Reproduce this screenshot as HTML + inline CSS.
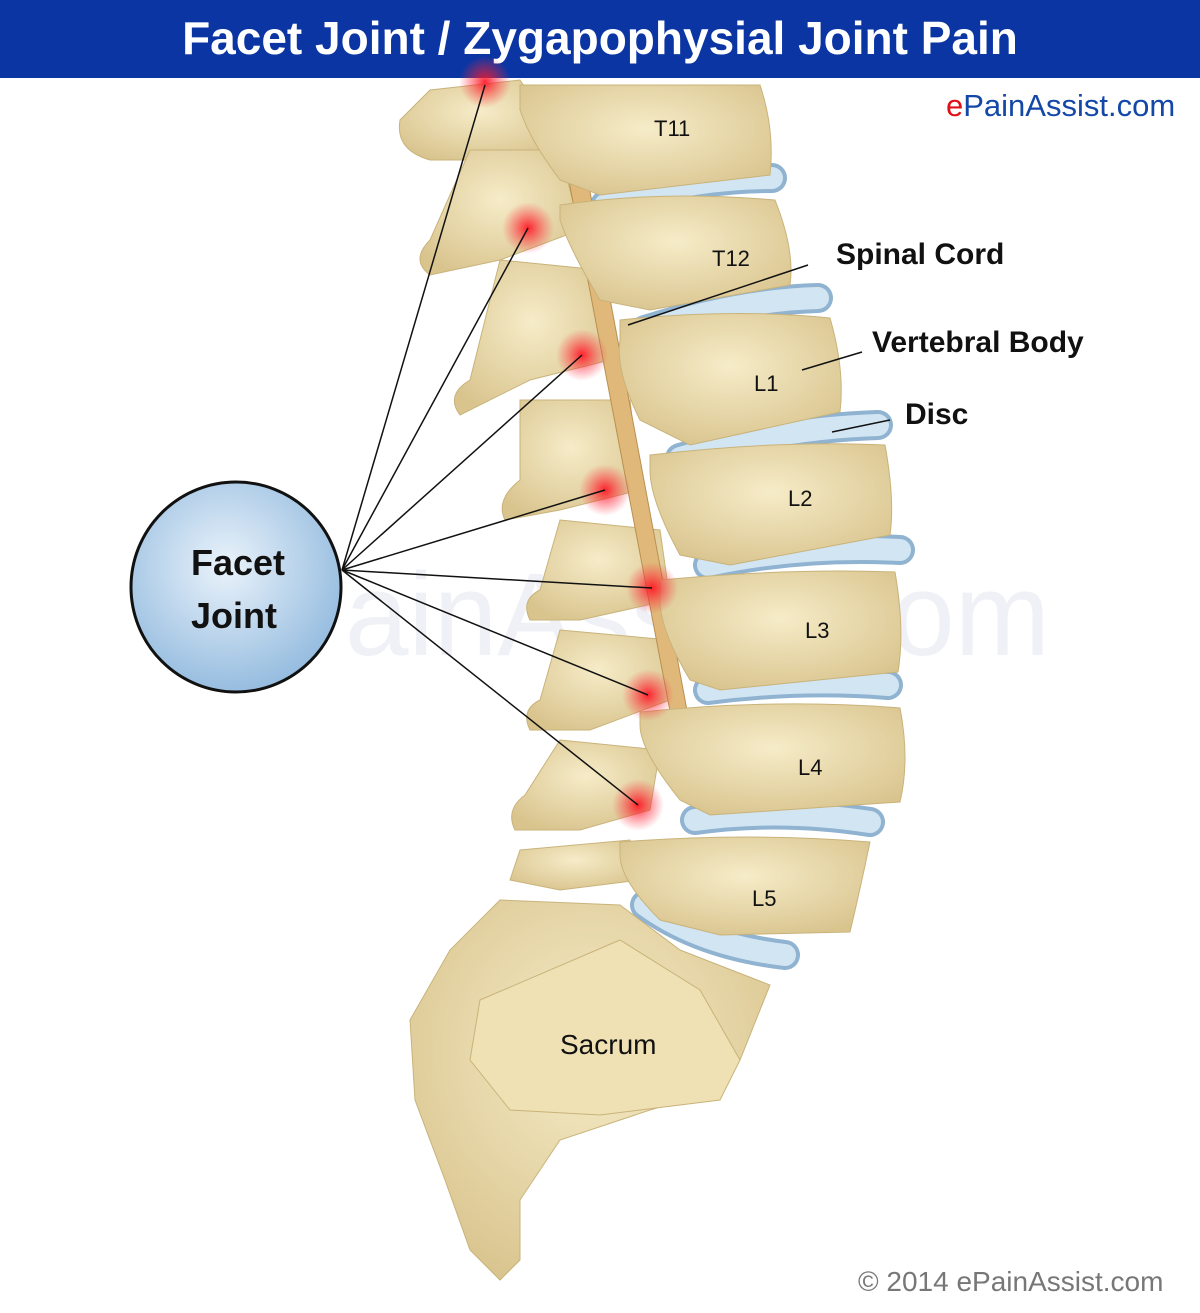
<!DOCTYPE html>
<html><head><meta charset="utf-8"><style>
html,body{margin:0;padding:0;background:#fff;}
body{width:1200px;height:1313px;position:relative;overflow:hidden;font-family:"Liberation Sans",sans-serif;}
.hdr{position:absolute;left:0;top:0;width:1200px;height:78px;background:#0a35a3;color:#fff;font-weight:bold;font-size:46px;text-align:center;line-height:76px;}
.t{position:absolute;font-weight:bold;color:#111;}
</style></head><body>
<div class="hdr">Facet Joint / Zygapophysial Joint Pain</div>
<svg width="1200" height="1313" style="position:absolute;left:0;top:0" viewBox="0 0 1200 1313">
<defs>
<radialGradient id="bone" cx="50%" cy="40%" r="65%"><stop offset="0" stop-color="#f6ecc8"/><stop offset="1" stop-color="#d9c48e"/></radialGradient>
<radialGradient id="circ" cx="45%" cy="40%" r="65%"><stop offset="0" stop-color="#eaf3fb"/><stop offset="1" stop-color="#8fb8dd"/></radialGradient>
<radialGradient id="glow"><stop offset="0" stop-color="#ff1020" stop-opacity="0.9"/><stop offset="1" stop-color="#ff3040" stop-opacity="0"/></radialGradient>
</defs>
<text x="205" y="655" font-size="118" fill="#eff1f7" font-family="Liberation Sans" textLength="845" lengthAdjust="spacingAndGlyphs">ePainAssist.com</text>
<!-- discs -->
<g fill="none" stroke-linecap="round">
<g stroke="#8fb3d0" stroke-width="30">
<path d="M605 205 Q690 178 772 178"/>
<path d="M645 330 Q740 300 818 298"/>
<path d="M680 458 Q780 428 878 425"/>
<path d="M708 565 Q800 545 900 550"/>
<path d="M708 690 Q800 678 888 685"/>
<path d="M695 820 Q780 808 870 822"/>
<path d="M645 905 Q700 945 785 955"/>
</g>
<g stroke="#d2e5f3" stroke-width="22">
<path d="M605 205 Q690 178 772 178"/>
<path d="M645 330 Q740 300 818 298"/>
<path d="M680 458 Q780 428 878 425"/>
<path d="M708 565 Q800 545 900 550"/>
<path d="M708 690 Q800 678 888 685"/>
<path d="M695 820 Q780 808 870 822"/>
<path d="M645 905 Q700 945 785 955"/>
</g>
</g>
<!-- posterior elements -->
<g fill="url(#bone)" stroke="#c9b37a" stroke-width="1">
<path d="M430 90 L520 80 L560 140 L520 160 L430 160 Q395 150 400 120 Z"/>
<path d="M470 150 L560 150 L580 230 L500 260 L430 275 Q410 260 430 240 Z"/>
<path d="M500 260 L600 270 L610 360 L530 380 L460 415 Q445 395 470 380 Z"/>
<path d="M520 400 L630 400 L640 490 L560 510 L505 520 Q495 500 520 480 Z"/>
<path d="M560 520 L660 530 L670 600 L580 620 L530 620 Q520 600 540 590 Z"/>
<path d="M560 630 L670 640 L670 700 L590 730 L530 730 Q520 710 540 700 Z"/>
<path d="M560 740 L660 750 L650 810 L580 830 L515 830 Q505 810 525 795 Z"/>
<path d="M520 850 L630 840 L640 880 L560 890 L510 880 Z"/>
</g>
<path d="M565 160 L585 165 L700 780 L685 790 Z" fill="#e0b97a" stroke="#b88f50"/>
<!-- bodies -->
<g fill="url(#bone)" stroke="#c9b37a">
<path d="M520 85 L760 85 Q775 130 770 175 L600 195 L560 180 Q530 140 520 110 Z"/>
<path d="M560 205 Q660 190 775 200 Q795 250 790 285 L650 310 L600 300 Q570 250 560 220 Z"/>
<path d="M620 320 Q730 308 830 318 Q845 370 840 412 L690 445 L640 420 Q615 370 620 340 Z"/>
<path d="M650 455 Q780 440 885 445 Q895 500 890 535 L730 565 L680 555 Q650 500 650 470 Z"/>
<path d="M660 580 Q790 568 895 572 Q905 630 898 672 L720 690 L690 680 Q660 630 660 600 Z"/>
<path d="M640 712 Q780 698 900 708 Q910 760 900 802 L710 815 L680 800 Q640 750 640 725 Z"/>
<path d="M620 842 Q750 832 870 842 Q860 890 850 932 L720 935 L660 920 Q620 880 620 855 Z"/>
<path d="M500 900 L620 905 L680 950 L770 985 L740 1060 L720 1090 L650 1110 L560 1140 L520 1200 L520 1260 L500 1280 L470 1250 L445 1180 L415 1100 L410 1020 L450 950 Z"/>
<path d="M480 1000 L620 940 L700 990 L740 1060 L720 1100 L600 1115 L510 1110 L470 1060 Z" fill="#efe1b3"/>
</g>
<g fill="url(#glow)">
<circle cx="485" cy="82" r="26"/><circle cx="528" cy="228" r="26"/><circle cx="582" cy="355" r="26"/>
<circle cx="605" cy="490" r="26"/><circle cx="652" cy="588" r="26"/><circle cx="648" cy="695" r="26"/><circle cx="638" cy="805" r="26"/>
</g>
<g stroke="#111" stroke-width="1.5">
<line x1="342" y1="570" x2="485" y2="85"/><line x1="342" y1="570" x2="528" y2="228"/>
<line x1="342" y1="570" x2="582" y2="355"/><line x1="342" y1="570" x2="605" y2="490"/>
<line x1="342" y1="570" x2="652" y2="588"/><line x1="342" y1="570" x2="648" y2="695"/>
<line x1="342" y1="570" x2="638" y2="805"/>
<line x1="628" y1="325" x2="808" y2="265"/><line x1="802" y1="370" x2="862" y2="352"/>
<line x1="832" y1="432" x2="890" y2="420"/>
</g>
<circle cx="236" cy="587" r="105" fill="url(#circ)" stroke="#111" stroke-width="3"/>
<text x="238" y="575" font-size="36" font-weight="bold" text-anchor="middle" fill="#111">Facet</text>
<text x="234" y="628" font-size="36" font-weight="bold" text-anchor="middle" fill="#111">Joint</text>
<g font-size="22" fill="#111">
<text x="654" y="136">T11</text><text x="712" y="266">T12</text><text x="754" y="391">L1</text>
<text x="788" y="506">L2</text><text x="805" y="638">L3</text><text x="798" y="775">L4</text>
<text x="752" y="906">L5</text><text x="560" y="1054" font-size="28">Sacrum</text>
</g>
</svg>
<div class="t" style="left:836px;top:238px;font-size:30px">Spinal Cord</div>
<div class="t" style="left:872px;top:326px;font-size:30px">Vertebral Body</div>
<div class="t" style="left:905px;top:398px;font-size:30px">Disc</div>
<div style="position:absolute;left:946px;top:88px;font-size:31px;color:#1448a8"><span style="color:#e0101a">e</span>PainAssist.com</div>
<div style="position:absolute;left:858px;top:1266px;font-size:28px;color:#777">© 2014 ePainAssist.com</div>
</body></html>
